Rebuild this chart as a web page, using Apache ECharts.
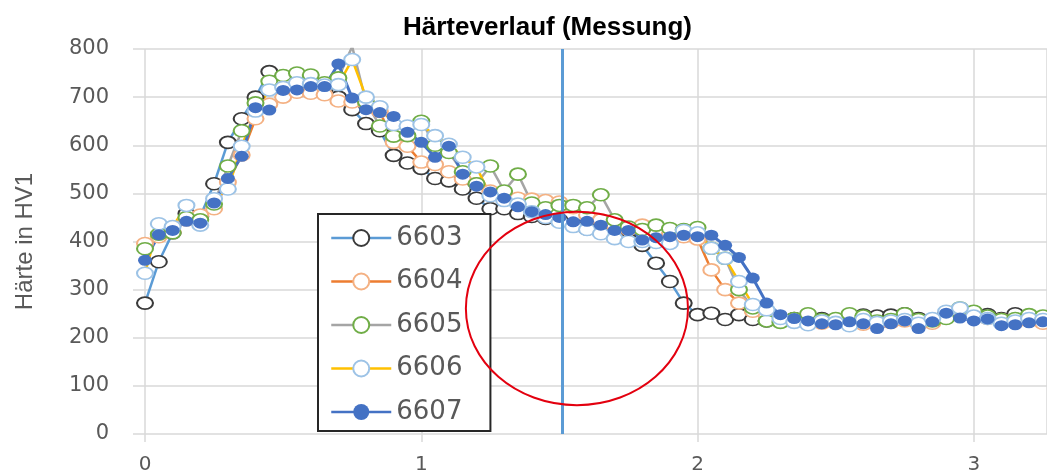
<!DOCTYPE html>
<html>
<head>
<meta charset="utf-8">
<script src="https://cdn.jsdelivr.net/npm/echarts@6/dist/echarts.min.js"></script>
<style>
html,body{margin:0;padding:0;background:#fff;}
#chart{width:1047px;height:475px;}
</style>
</head>
<body>
<div id="chart"></div>
<script>
const chartTitle = 'Härteverlauf (Messung)';
const yAxisName = 'Härte in HV1';
const seriesNames = ['6603', '6604', '6605', '6606', '6607'];
const yTicks = { min: 0, max: 800, interval: 100 };
const xTicks = { min: 0, max: 3.265, interval: 1 };

// measuring positions (shared)
const positions = [0,0.05,0.1,0.15,0.2,0.25,0.3,0.35,0.4,0.45,0.5,0.55,0.6,0.65,0.7,0.75,0.8,0.85,0.9,0.95,
  1,1.05,1.1,1.15,1.2,1.25,1.3,1.35,1.4,1.45,1.5,1.55,1.6,1.65,1.7,1.75,1.8,1.85,1.9,1.95,
  2,2.05,2.1,2.15,2.2,2.25,2.3,2.35,2.4,2.45,2.5,2.55,2.6,2.65,2.7,2.75,2.8,2.85,2.9,2.95,
  3,3.05,3.1,3.15,3.2,3.25];

const v6603 = [272,358,418,458,452, 520,606,655,700,753, 735,722,718,716,700, 674,645,630,579,563,
  552,531,526,509,490, 468,468,458,452,448, 445,436,426,420,412, 404,392,355,317,272,
  248,251,238,248,238, 235,238,240,243,240, 238,245,247,245,247, 250,240,235,250,258,
  250,248,240,250,246, 240];
const v6604 = [396,410,420,445,455, 468,523,580,655,685, 700,710,708,705,692, 690,688,670,606,598,
  565,560,545,530,520, 505,498,490,488,485, 482,470,455,445,434, 425,434,420,415,410,
  405,341,300,272,255, 245,240,235,238,230, 232,235,228,230,232, 235,228,230,245,255,
  245,240,238,232,235, 230];
const v6605 = [385,415,418,450,445, 478,557,630,688,733, 745,750,746,730,740, 805,690,640,619,620,
  650,600,585,545,520, 557,505,540,480,470, 475,475,470,497,445, 430,425,434,427,425,
  429,386,365,300,262, 235,232,240,250,238, 240,250,245,235,238, 250,238,235,240,262,
  255,245,238,240,248, 245];
const v6606 = [334,437,431,475,434, 489,509,598,671,715, 720,730,728,725,726, 778,700,680,643,640,
  643,620,602,575,555, 495,485,478,462,450, 440,431,425,416,406, 400,400,398,396,423,
  418,386,365,317,269, 258,240,232,227,235, 232,225,238,232,235, 238,230,240,255,262,
  245,240,230,235,240, 238];
const v6607 = [361,414,423,442,438, 480,531,577,678,673, 714,715,722,722,769, 698,674,668,660,627,
  606,575,598,540,515, 503,490,472,462,456, 450,441,442,434,423, 423,403,408,410,413,
  410,413,392,367,324, 272,248,240,235,229, 227,233,229,219,229, 235,219,233,251,241,
  235,239,225,227,231, 233];

// annotations (data units)
const markerLineX = 1.51;
const highlight = { cx: 1.5635, cy: 261, rx: 0.402, ry: 201 };

const valuesList = [v6603, v6604, v6605, v6606, v6607];
const lineColors = ['#5b9bd5', '#ed7d31', '#a5a5a5', '#ffc000', '#4472c4'];
const markerBorders = ['#3a3a3a', '#f4b183', '#70ad47', '#9dc3e6', '#4472c4'];

const chart = echarts.init(document.getElementById('chart'), null, { renderer: 'canvas' });

const series = seriesNames.map((name, i) => {
  const filled = i === 4;
  const s = {
    name: name,
    type: 'line',
    data: positions.map((x, j) => [x, valuesList[i][j]]),
    symbol: 'circle',
    showAllSymbol: true,
    symbolSize: filled ? [14, 11] : [16, 12],
    lineStyle: { color: lineColors[i], width: filled ? 3 : 2.5 },
    itemStyle: filled
      ? { color: markerBorders[i], borderWidth: 0 }
      : { color: '#ffffff', borderColor: markerBorders[i], borderWidth: 1.8 },
    emphasis: { disabled: true },
    animation: false
  };
  if (filled) {
    s.markLine = {
      silent: true,
      symbol: 'none',
      label: { show: false },
      lineStyle: { color: '#5b9bd5', width: 3, type: 'solid' },
      data: [{ xAxis: markerLineX }],
      animation: false
    };
  }
  return s;
});

chart.setOption({
  animation: false,
  backgroundColor: '#ffffff',
  title: {
    text: chartTitle,
    left: 398,
    top: 10,
    textStyle: { fontSize: 26, fontWeight: 'bold', color: '#000', fontFamily: 'Liberation Sans' }
  },
  grid: { left: 145, right: 0, top: 49, bottom: 38, containLabel: false },
  legend: {
    orient: 'vertical',
    left: 318,
    top: 214,
    data: seriesNames,
    itemWidth: 60,
    itemHeight: 20,
    itemGap: 17.5,
    padding: [11, 28, 6, 12],
    borderColor: '#262626',
    borderWidth: 2,
    backgroundColor: '#ffffff',
    selectedMode: false,
    lineStyle: { width: 2.5 },
    textStyle: { fontSize: 26, color: '#595959', fontFamily: 'DejaVu Sans' }
  },
  xAxis: {
    type: 'value',
    min: xTicks.min,
    max: xTicks.max,
    interval: xTicks.interval,
    axisLine: { show: false },
    axisTick: { show: true, length: 8, lineStyle: { color: '#d9d9d9', width: 1.5 } },
    splitLine: { show: true, lineStyle: { color: '#d9d9d9', width: 1.5 } },
    axisLabel: { showMaxLabel: false, margin: 21, fontSize: 20, color: '#595959', fontFamily: 'DejaVu Sans' }
  },
  yAxis: {
    type: 'value',
    min: yTicks.min,
    max: yTicks.max,
    interval: yTicks.interval,
    name: yAxisName,
    nameLocation: 'middle',
    nameRotate: 90,
    nameGap: 108,
    nameTextStyle: { fontSize: 24, color: '#595959', fontFamily: 'Liberation Sans' },
    axisLine: { show: false },
    axisTick: { show: true, length: 12, lineStyle: { color: '#d9d9d9', width: 1.5 } },
    splitLine: { show: true, lineStyle: { color: '#d9d9d9', width: 1.5 } },
    axisLabel: { margin: 36, fontSize: 21, color: '#595959', fontFamily: 'DejaVu Sans' }
  },
  series: series
});

const c = chart.convertToPixel({ gridIndex: 0 }, [highlight.cx, highlight.cy]);
const e = chart.convertToPixel({ gridIndex: 0 }, [highlight.cx + highlight.rx, highlight.cy + highlight.ry]);
chart.setOption({
  graphic: [{
    type: 'ellipse',
    silent: true,
    z: 100,
    shape: { cx: c[0], cy: c[1], rx: e[0] - c[0], ry: c[1] - e[1] },
    style: { fill: 'none', stroke: '#e3000f', lineWidth: 2 }
  }]
});
</script>
</body>
</html>
